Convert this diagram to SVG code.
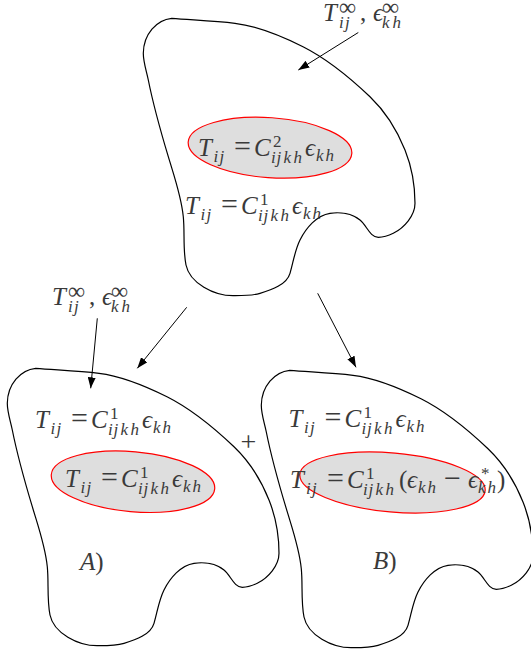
<svg xmlns="http://www.w3.org/2000/svg" width="531" height="653" viewBox="0 0 531 653">
<style>
.blob{fill:none;stroke:#000;stroke-width:1.2}
.inc{fill:#dedede;stroke:#ff0000;stroke-width:1.2}
.t{font-family:"Liberation Serif","DejaVu Serif",serif;font-size:25px;font-style:italic;fill:#3a3a3a}
.u{font-style:normal}
.s{font-size:17px}
.eq{font-size:30px;font-style:normal}
.inf{font-size:24px;font-style:normal}
.arr{fill:none;stroke:#000;stroke-width:1}
</style>
<defs>
<marker id="ah" markerUnits="userSpaceOnUse" markerWidth="12" markerHeight="8" refX="11" refY="4" orient="auto">
<path d="M0,0 L11,4 L0,8 Z" fill="#000"/>
</marker>
<path id="shape" d="M171.7,18.3 C192.6,20 214.1,20.8 235,23.3 C258.8,26.2 281.5,36 303,46.7 C327.9,59.2 349.8,77.5 370,96.7 C385.4,111.4 397.1,130.2 405,150 C411.7,166.8 415,185.2 415,203.3 C415,215.6 404.3,227.8 393.3,233.3 C388.7,235.6 383.5,237.3 378.3,237.3 C369.9,237.3 366.6,225.2 360,220 C352,213.6 340.1,211.8 330,213.3 C316.7,215.3 306,228 300,240 C294.8,250.4 293.3,262.2 290,273.3 C286.6,284.8 271.5,289.9 260,293.3 C251.4,295.9 242,295.7 233,295.7 C214.3,295.7 189.7,283.3 186,265 C182.8,249.2 184.9,232.7 183.3,216.7 C181.3,196.2 174.2,176.4 168.3,156.7 C160.7,131.4 153.5,105.9 148.3,80 C146.5,71.1 143.3,62.4 143.3,53.3 C143.5,34 156.7,19.8 171.7,18.3 Z"/>
</defs>

<g id="top-body">
<use href="#shape" class="blob"/>
<ellipse class="inc" cx="270" cy="147.7" rx="82" ry="30" transform="rotate(4 270 147.7)"/>
<text class="t"><tspan x="198" y="156">T</tspan><tspan class="s" x="213.5 219.5" y="162">ij</tspan><tspan class="eq" x="234" y="156">=</tspan><tspan x="254" y="156">C</tspan><tspan class="s u" x="273" y="147">2</tspan><tspan class="s" x="271 276.5 283.5 293.5" y="163">ijkh</tspan><tspan x="305" y="156">ϵ</tspan><tspan class="s" x="316 325.5" y="161">kh</tspan></text>
<text class="t"><tspan x="185" y="213.5">T</tspan><tspan class="s" x="200.5 206.5" y="219.5">ij</tspan><tspan class="eq" x="221" y="213.5">=</tspan><tspan x="241" y="213.5">C</tspan><tspan class="s u" x="260" y="204.5">1</tspan><tspan class="s" x="258 263.5 270.5 280.5" y="220.5">ijkh</tspan><tspan x="292" y="213.5">ϵ</tspan><tspan class="s" x="303 312.5" y="218.5">kh</tspan></text>
</g>

<g id="label-top">
<text class="t"><tspan x="323" y="21">T</tspan><tspan class="inf" x="339" y="14.5">∞</tspan><tspan class="s" x="339 345" y="28">ij</tspan><tspan class="u" x="360" y="21">,</tspan><tspan x="373" y="21">ϵ</tspan><tspan class="inf" x="382" y="14.5">∞</tspan><tspan class="s" x="382 392.5" y="28">kh</tspan></text>
</g>

<g id="label-left">
<text class="t"><tspan x="52" y="305">T</tspan><tspan class="inf" x="68" y="298.5">∞</tspan><tspan class="s" x="68 74" y="312">ij</tspan><tspan class="u" x="89" y="305">,</tspan><tspan x="102" y="305">ϵ</tspan><tspan class="inf" x="111" y="298.5">∞</tspan><tspan class="s" x="111 121.5" y="312">kh</tspan></text>
</g>

<g id="case-A">
<use href="#shape" class="blob" transform="translate(-136 350)"/>
<ellipse class="inc" cx="133" cy="481.7" rx="82" ry="30" transform="rotate(5 133 481.7)"/>
<text class="t"><tspan x="35" y="428">T</tspan><tspan class="s" x="50.5 56.5" y="434">ij</tspan><tspan class="eq" x="71" y="428">=</tspan><tspan x="91" y="428">C</tspan><tspan class="s u" x="110" y="419">1</tspan><tspan class="s" x="108 113.5 120.5 130.5" y="435">ijkh</tspan><tspan x="142" y="428">ϵ</tspan><tspan class="s" x="153 162.5" y="433">kh</tspan></text>
<text class="t"><tspan x="65" y="486.5">T</tspan><tspan class="s" x="80.5 86.5" y="492.5">ij</tspan><tspan class="eq" x="101" y="486.5">=</tspan><tspan x="121" y="486.5">C</tspan><tspan class="s u" x="140" y="477.5">1</tspan><tspan class="s" x="138 143.5 150.5 160.5" y="493.5">ijkh</tspan><tspan x="172" y="486.5">ϵ</tspan><tspan class="s" x="183 192.5" y="491.5">kh</tspan></text>
<text class="t" x="80" y="570">A<tspan class="u">)</tspan></text>
</g>

<g id="plus">
<text class="t u" x="248.5" y="451.3" text-anchor="middle" style="font-size:28px">+</text>
</g>

<g id="case-B">
<use href="#shape" class="blob" transform="translate(118 352)"/>
<ellipse class="inc" cx="392.5" cy="482.5" rx="93" ry="29.5" transform="rotate(5 392.5 482.5)"/>
<text class="t"><tspan x="288.5" y="427">T</tspan><tspan class="s" x="304 310" y="433">ij</tspan><tspan class="eq" x="324.5" y="427">=</tspan><tspan x="344.5" y="427">C</tspan><tspan class="s u" x="363.5" y="418">1</tspan><tspan class="s" x="361.5 367 374 384" y="434">ijkh</tspan><tspan x="395.5" y="427">ϵ</tspan><tspan class="s" x="406.5 416" y="432">kh</tspan></text>
<text class="t"><tspan x="290" y="488">T</tspan><tspan class="s" x="306 312" y="494">ij</tspan><tspan class="eq" x="327" y="488">=</tspan><tspan x="347" y="488">C</tspan><tspan class="s u" x="366" y="479">1</tspan><tspan class="s" x="363 368.5 375.5 385.5" y="495">ijkh</tspan><tspan class="u" x="399" y="488">(</tspan><tspan x="407" y="488">ϵ</tspan><tspan class="s" x="418 427.5" y="493">kh</tspan><tspan class="eq" x="444" y="488">−</tspan><tspan x="468" y="488">ϵ</tspan><tspan class="s u" x="481" y="479">*</tspan><tspan class="s" x="478 487.5" y="493">kh</tspan><tspan class="u" x="497" y="488">)</tspan></text>
<text class="t" x="373" y="568.5">B<tspan class="u">)</tspan></text>
</g>

<g id="connectors">
<path class="arr" d="M358.3,32.5 L298.3,70" marker-end="url(#ah)"/>
<path class="arr" d="M97.3,318.3 L90.7,388.3" marker-end="url(#ah)"/>
<path class="arr" d="M186.7,307.3 L137.3,368.3" marker-end="url(#ah)"/>
<path class="arr" d="M317.7,293.3 L356,367.3" marker-end="url(#ah)"/>
</g>
</svg>
